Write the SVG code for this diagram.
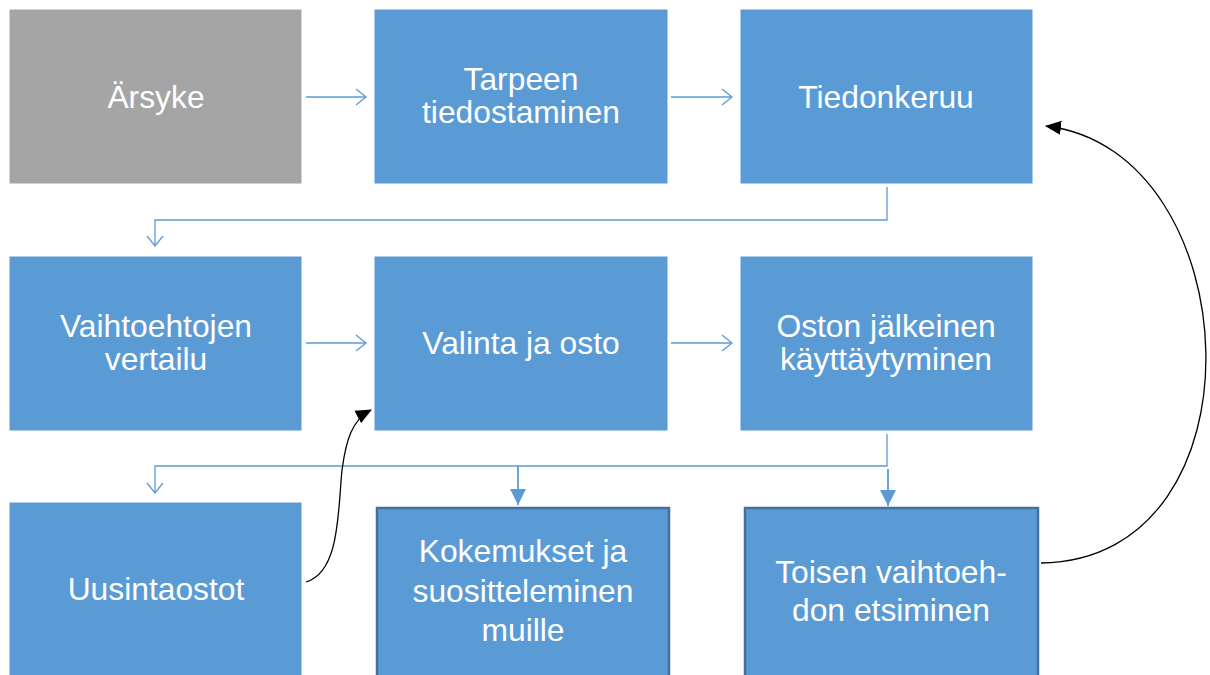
<svg xmlns="http://www.w3.org/2000/svg" width="1210" height="675" viewBox="0 0 1210 675">
<style>
.box{fill:#5b9bd5;stroke:#ffffff;stroke-width:1}
.grey{fill:#a5a5a5;stroke:#ffffff;stroke-width:1}
.dark{fill:#5b9bd5;stroke:#41719c;stroke-width:2.5}
.t{font-family:"Liberation Sans",Arial,sans-serif;font-size:31.8px;fill:#ffffff;text-anchor:middle}
.c{fill:none;stroke:#5b9bd5;stroke-width:1.3}
.cf{fill:none;stroke:#5b9bd5;stroke-width:1.8}
.k{fill:none;stroke:#000000;stroke-width:1.3}
</style>
<defs>
<marker id="open" viewBox="0 0 12 18" refX="11" refY="9" markerWidth="12" markerHeight="18" markerUnits="userSpaceOnUse" orient="auto">
<path d="M1,1 L11,9 L1,17" fill="none" stroke="#5b9bd5" stroke-width="1.3"/>
</marker>
<marker id="fill" viewBox="0 0 16 16" refX="16" refY="8" markerWidth="16" markerHeight="16" markerUnits="userSpaceOnUse" orient="auto">
<path d="M0,0 L16,8 L0,16 Z" fill="#5b9bd5"/>
</marker>
<marker id="blk" viewBox="0 0 16 16" refX="15" refY="8" markerWidth="16" markerHeight="16" markerUnits="userSpaceOnUse" orient="auto">
<path d="M0,1 L16,8 L0,15 Z" fill="#000000"/>
</marker>
</defs>
<g id="connectors">
<path class="c" d="M306,97 H366" marker-end="url(#open)"/>
<path class="c" d="M671,97 H732" marker-end="url(#open)"/>
<path class="c" d="M887,187 V220 H155 V246" marker-end="url(#open)"/>
<path class="c" d="M306,343 H366" marker-end="url(#open)"/>
<path class="c" d="M671,343 H732" marker-end="url(#open)"/>
<path class="c" d="M887,434 V466 H155 V493" marker-end="url(#open)"/>
<path class="cf" d="M518,466 V505" marker-end="url(#fill)"/>
<path class="cf" d="M888,469 V506" marker-end="url(#fill)"/>
<path class="k" d="M306,582 C340,572 338,510 342,470 C346,440 352,420 371,410" marker-end="url(#blk)"/>
<path class="k" d="M1041,563 C1270,560 1250,150 1046,126" marker-end="url(#blk)"/>
</g>
<g id="n1"><rect class="grey" x="9" y="9" width="293" height="175"/><text class="t" x="156" y="108">Ärsyke</text></g>
<g id="n2"><rect class="box" x="374" y="9" width="294" height="175"/><text class="t" x="521" y="90">Tarpeen</text><text class="t" x="521" y="123">tiedostaminen</text></g>
<g id="n3"><rect class="box" x="740" y="9" width="293" height="175"/><text class="t" x="886" y="108">Tiedonkeruu</text></g>
<g id="n4"><rect class="box" x="9" y="256" width="293" height="175"/><text class="t" x="156" y="337">Vaihtoehtojen</text><text class="t" x="156" y="370">vertailu</text></g>
<g id="n5"><rect class="box" x="374" y="256" width="294" height="175"/><text class="t" x="521" y="354">Valinta ja osto</text></g>
<g id="n6"><rect class="box" x="740" y="256" width="293" height="175"/><text class="t" x="886" y="337">Oston jälkeinen</text><text class="t" x="886" y="370">käyttäytyminen</text></g>
<g id="n7"><rect class="box" x="9" y="502" width="293" height="180"/><text class="t" x="156" y="600">Uusintaostot</text></g>
<g id="n8"><rect class="dark" x="377" y="508" width="292" height="172"/><text class="t" x="523" y="562">Kokemukset ja</text><text class="t" x="523" y="602">suositteleminen</text><text class="t" x="523" y="641">muille</text></g>
<g id="n9"><rect class="dark" x="745" y="508" width="293" height="172"/><text class="t" x="891" y="583">Toisen vaihtoeh-</text><text class="t" x="891" y="621">don etsiminen</text></g>
</svg>
